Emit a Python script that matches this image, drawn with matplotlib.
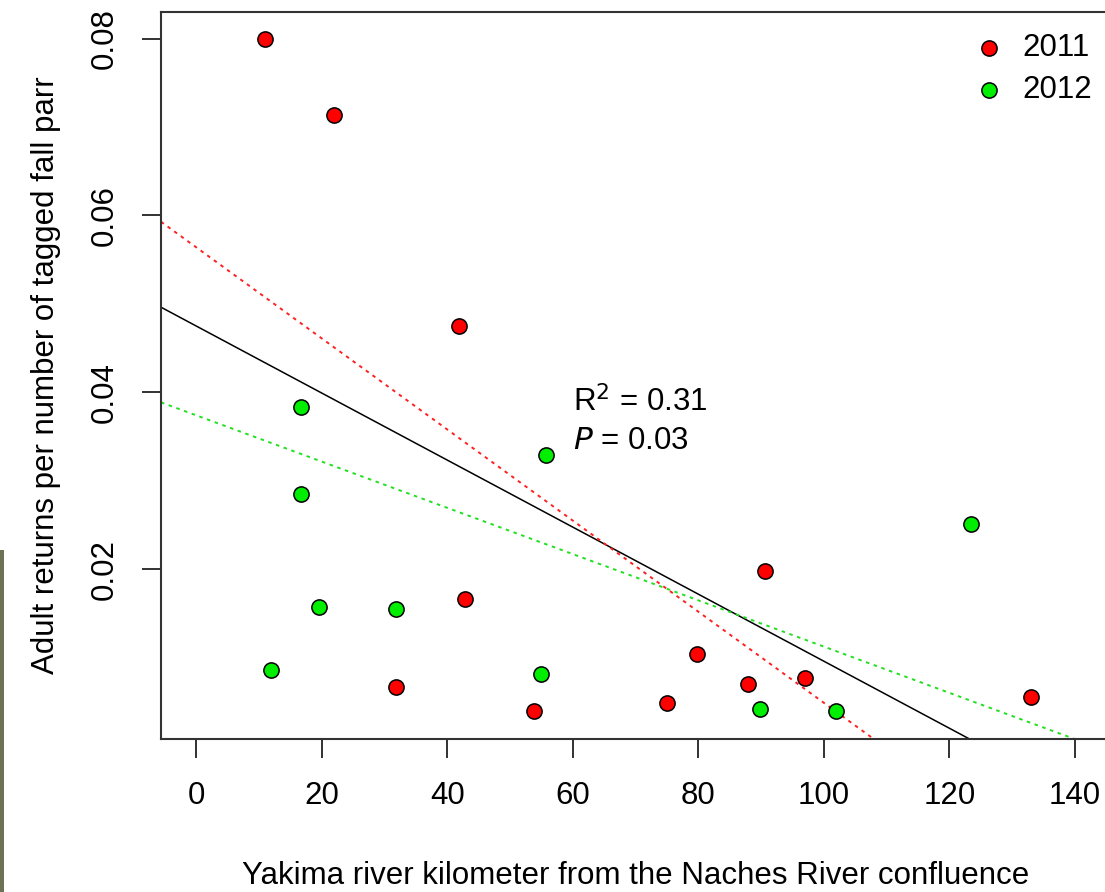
import numpy as np
import matplotlib.pyplot as plt
from matplotlib.patches import Rectangle

plt.rcParams['font.family'] = ['Liberation Sans', 'DejaVu Sans']

# River kilometre and adult returns per tagged fall parr, by release year
rkm_2011 = [10.9, 21.9, 41.9, 42.9, 31.9, 53.9, 75.0, 79.8, 87.9, 90.7, 97.0, 133.0]
ret_2011 = [0.0800, 0.0713, 0.0475, 0.0166, 0.0067, 0.0040, 0.0049, 0.0104, 0.0070, 0.0198, 0.0077, 0.0056]

rkm_2012 = [11.9, 16.7, 16.7, 19.6, 31.9, 55.8, 54.9, 89.9, 101.9, 123.5]
ret_2012 = [0.0086, 0.0383, 0.0285, 0.0157, 0.0155, 0.0329, 0.0081, 0.0042, 0.0040, 0.0251]

# Fitted lines: (intercept, slope) for pooled data, 2011 and 2012
fit_all = (0.0475, -0.000379)
fit_2011 = (0.0564, -0.000515)
fit_2012 = (0.0374, -0.0002615)

r2_text = '0.31'
p_text = '0.03'

xticks = [0, 20, 40, 60, 80, 100, 120, 140]
yticks = [0.02, 0.04, 0.06, 0.08]

fs = 22.5

fig = plt.figure(figsize=(11.05, 8.92), dpi=100)
ax = fig.add_axes([161 / 1105, 1 - 739 / 892, 949 / 1105, 727 / 892])

ax.set_xlim(-5.6, 145.6)
ax.set_ylim(0.0008, 0.0830)

# regression lines span the whole plotting region
ax.axline((0, fit_all[0]), slope=fit_all[1], color='black', lw=1.1, zorder=2)
ax.axline((0, fit_2011[0]), slope=fit_2011[1], color='#ff2020', lw=1.4,
          linestyle=(0, (1.8, 2.4)), zorder=2)
ax.axline((0, fit_2012[0]), slope=fit_2012[1], color='#20e020', lw=1.4,
          linestyle=(0, (1.8, 2.4)), zorder=2)

ax.scatter(rkm_2011, ret_2011, s=120, facecolor='#ff0000', edgecolor='black',
           linewidth=1.1, zorder=3, label='2011')
ax.scatter(rkm_2012, ret_2012, s=120, facecolor='#00ee00', edgecolor='black',
           linewidth=1.1, zorder=3, label='2012')

ax.text(60, 0.0378, r'R$^2$ = ' + r2_text, fontsize=fs, ha='left', va='baseline')
ax.text(60, 0.0336, r'$\it{P}$ = ' + p_text, fontsize=fs, ha='left', va='baseline')

ax.legend(loc='upper right', bbox_to_anchor=(1092 / 1105, 1 - 33 / 892),
          bbox_transform=fig.transFigure, frameon=False,
          fontsize=fs, handletextpad=0.55, labelspacing=0.38, borderaxespad=0.0,
          borderpad=0.0, handlelength=1.0, scatterpoints=1)

ax.set_xticks(xticks)
ax.set_xticklabels([str(v) for v in xticks])
ax.set_yticks(yticks)
ax.set_yticklabels([f'{v:.2f}' for v in yticks], rotation=90, va='center')

ax.tick_params(axis='both', direction='out', length=13.5, width=1.3,
               labelsize=fs, color='#222222')
ax.tick_params(axis='x', pad=17)
ax.tick_params(axis='y', pad=16)

for side in ['left', 'bottom', 'top', 'right']:
    ax.spines[side].set_linewidth(1.5)
    ax.spines[side].set_color('#333333')

ax.set_xlabel('Yakima river kilometer from the Naches River confluence',
              fontsize=fs, labelpad=36)
ax.set_ylabel('Adult returns per number of tagged fall parr', fontsize=fs,
              labelpad=21)

# thin photo strip along the left margin
fig.patches.append(Rectangle((0, 0), 4 / 1105, 342 / 892, transform=fig.transFigure,
                             facecolor='#6e7255', edgecolor='none'))

fig.savefig('out.png', dpi=100)
